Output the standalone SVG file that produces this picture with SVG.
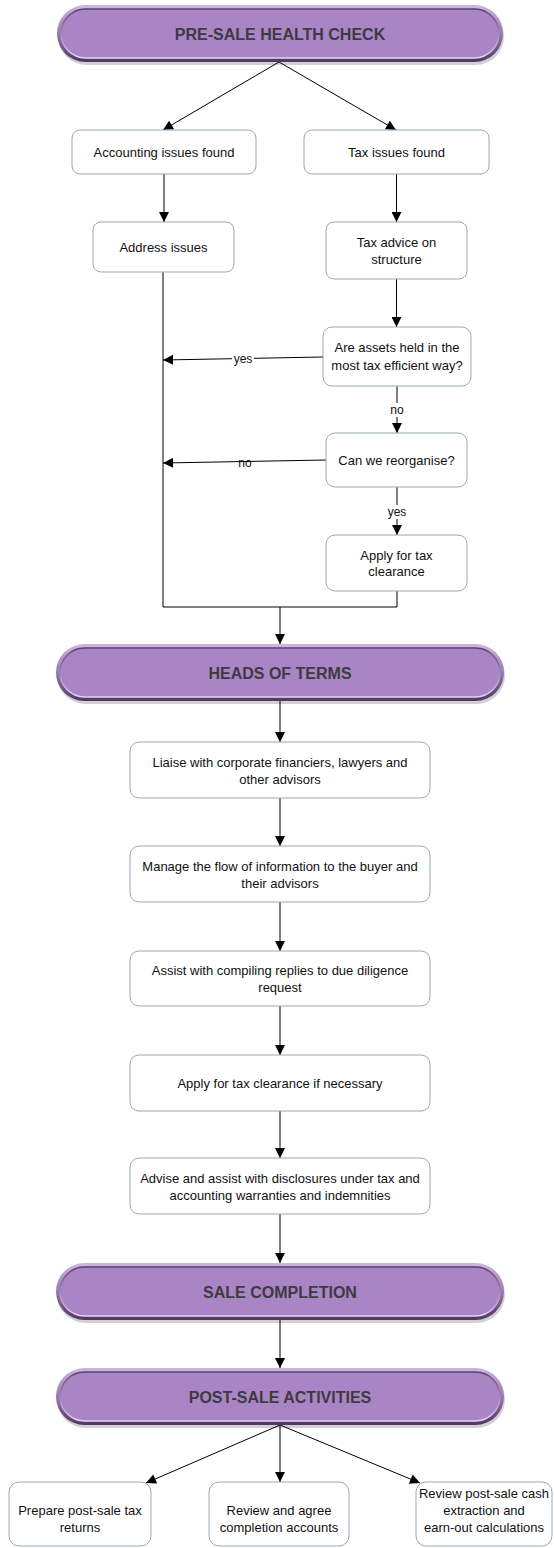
<svg xmlns="http://www.w3.org/2000/svg" width="554" height="1548" viewBox="0 0 554 1548">
<style>
.box{fill:#ffffff;stroke:#9aa7b4;stroke-width:1}
.t{font-family:"Liberation Sans",Arial,sans-serif;font-size:13px;fill:#111;text-anchor:middle}
.lbl{font-family:"Liberation Sans",Arial,sans-serif;font-size:12px;fill:#111;text-anchor:middle}
.bt{font-family:"Liberation Sans",Arial,sans-serif;font-size:16px;font-weight:bold;fill:#3d3a40;text-anchor:middle}
.c{fill:none;stroke:#000;stroke-width:1}
.a{marker-end:url(#arr)}
.outer{fill:url(#rim)}
.inner{fill:#aa85c6;stroke:url(#bev);stroke-width:1.5}
.shadow{fill:#000;opacity:0.18}
</style>
<defs>
<marker id="arr" viewBox="0 0 10 10" refX="10" refY="5" markerWidth="12" markerHeight="10" markerUnits="userSpaceOnUse" orient="auto">
<path d="M0,0 L10,5 L0,10 z" fill="#000"/>
</marker>
<linearGradient id="rim" x1="0" y1="0" x2="0" y2="1">
<stop offset="0" stop-color="#cdb7df"/>
<stop offset="0.5" stop-color="#9a77b4"/>
<stop offset="1" stop-color="#4f3763"/>
</linearGradient>
<linearGradient id="bev" x1="0" y1="0" x2="0" y2="1">
<stop offset="0" stop-color="#5a3f6f"/>
<stop offset="1" stop-color="#e6d6f2"/>
</linearGradient>
</defs>

<g id="connectors">
<line class="c a" x1="279" y1="62" x2="163" y2="130"/>
<line class="c a" x1="279" y1="62" x2="396" y2="130"/>
<line class="c a" x1="164" y1="174" x2="164" y2="222"/>
<line class="c a" x1="396.5" y1="174" x2="396.5" y2="222"/>
<line class="c a" x1="396.5" y1="279" x2="396.5" y2="327"/>
<line class="c a" x1="323" y1="357" x2="163" y2="360"/>
<line class="c a" x1="397" y1="386" x2="397" y2="433"/>
<line class="c a" x1="326" y1="460" x2="163" y2="463"/>
<line class="c a" x1="397" y1="487" x2="397" y2="535"/>
<polyline class="c" points="163,272 163,607 397,607 397,591"/>
<line class="c a" x1="280" y1="607" x2="280" y2="644"/>
<line class="c a" x1="280" y1="701" x2="280" y2="742"/>
<line class="c a" x1="280" y1="798" x2="280" y2="846"/>
<line class="c a" x1="280" y1="902" x2="280" y2="951"/>
<line class="c a" x1="280" y1="1006" x2="280" y2="1055"/>
<line class="c a" x1="280" y1="1111" x2="280" y2="1158"/>
<line class="c a" x1="280" y1="1214" x2="280" y2="1263"/>
<line class="c a" x1="280" y1="1320" x2="280" y2="1368"/>
<line class="c a" x1="280" y1="1425" x2="146" y2="1483"/>
<line class="c a" x1="280" y1="1425" x2="280" y2="1482"/>
<line class="c a" x1="280" y1="1425" x2="420" y2="1483"/>
<rect x="232" y="352" width="22" height="13" fill="#fff"/>
<text class="lbl" x="243" y="363">yes</text>
<rect x="389" y="403" width="16" height="14" fill="#fff"/>
<text class="lbl" x="397" y="414">no</text>
<text class="lbl" x="245" y="467">no</text>
<rect x="386" y="505" width="22" height="14" fill="#fff"/>
<text class="lbl" x="397" y="516">yes</text>
</g>

<g id="pre-sale">
<rect class="shadow" x="58" y="8" width="446" height="57" rx="28.5"/>
<rect class="outer" x="57" y="5" width="446" height="57" rx="28.5"/>
<rect class="inner" x="61" y="9" width="438" height="49" rx="24.5"/>
<text class="bt" x="280" y="40">PRE-SALE HEALTH CHECK</text>
</g>

<g id="accounting-issues">
<rect class="box" x="72" y="130" width="184" height="44" rx="8"/>
<text class="t" x="164" y="157">Accounting issues found</text>
</g>
<g id="tax-issues">
<rect class="box" x="304" y="130" width="185" height="44" rx="8"/>
<text class="t" x="396.5" y="157">Tax issues found</text>
</g>
<g id="address-issues">
<rect class="box" x="93" y="222" width="141" height="50" rx="8"/>
<text class="t" x="163.5" y="251.5">Address issues</text>
</g>
<g id="tax-advice">
<rect class="box" x="326" y="222" width="141" height="57" rx="8"/>
<text class="t" x="396.5" y="247">Tax advice on</text>
<text class="t" x="396.5" y="264">structure</text>
</g>
<g id="assets-efficient">
<rect class="box" x="323" y="327" width="148" height="59" rx="9"/>
<text class="t" x="397" y="352">Are assets held in the</text>
<text class="t" x="397" y="370">most tax efficient way?</text>
</g>
<g id="reorganise">
<rect class="box" x="326" y="433" width="141" height="54" rx="9"/>
<text class="t" x="396.5" y="465">Can we reorganise?</text>
</g>
<g id="apply-clearance">
<rect class="box" x="326" y="535" width="141" height="56" rx="9"/>
<text class="t" x="396.5" y="559.5">Apply for tax</text>
<text class="t" x="396.5" y="576">clearance</text>
</g>

<g id="heads-of-terms">
<rect class="shadow" x="57" y="647" width="448" height="57" rx="28.5"/>
<rect class="outer" x="56" y="644" width="448" height="57" rx="28.5"/>
<rect class="inner" x="60" y="648" width="440" height="49" rx="24.5"/>
<text class="bt" x="280" y="679">HEADS OF TERMS</text>
</g>

<g id="liaise">
<rect class="box" x="130" y="742" width="300" height="56" rx="9"/>
<text class="t" x="280" y="766.5">Liaise with corporate financiers, lawyers and</text>
<text class="t" x="280" y="783.5">other advisors</text>
</g>
<g id="manage-flow">
<rect class="box" x="130" y="846" width="300" height="56" rx="9"/>
<text class="t" x="280" y="871">Manage the flow of information to the buyer and</text>
<text class="t" x="280" y="888">their advisors</text>
</g>
<g id="due-diligence">
<rect class="box" x="130" y="951" width="300" height="55" rx="9"/>
<text class="t" x="280" y="975">Assist with compiling replies to due diligence</text>
<text class="t" x="280" y="992">request</text>
</g>
<g id="apply-if-necessary">
<rect class="box" x="130" y="1055" width="300" height="56" rx="9"/>
<text class="t" x="280" y="1087.5">Apply for tax clearance if necessary</text>
</g>
<g id="disclosures">
<rect class="box" x="130" y="1158" width="300" height="56" rx="9"/>
<text class="t" x="280" y="1182.5">Advise and assist with disclosures under tax and</text>
<text class="t" x="280" y="1200">accounting warranties and indemnities</text>
</g>

<g id="sale-completion">
<rect class="shadow" x="57" y="1266" width="448" height="57" rx="28.5"/>
<rect class="outer" x="56" y="1263" width="448" height="57" rx="28.5"/>
<rect class="inner" x="60" y="1267" width="440" height="49" rx="24.5"/>
<text class="bt" x="280" y="1297.5">SALE COMPLETION</text>
</g>

<g id="post-sale">
<rect class="shadow" x="57" y="1371" width="448" height="57" rx="28.5"/>
<rect class="outer" x="56" y="1368" width="448" height="57" rx="28.5"/>
<rect class="inner" x="60" y="1372" width="440" height="49" rx="24.5"/>
<text class="bt" x="280" y="1402.5">POST-SALE ACTIVITIES</text>
</g>

<g id="tax-returns">
<rect class="box" x="9" y="1482" width="142" height="64" rx="10"/>
<text class="t" x="80" y="1514.5">Prepare post-sale tax</text>
<text class="t" x="80" y="1532">returns</text>
</g>
<g id="completion-accounts">
<rect class="box" x="209" y="1482" width="140" height="64" rx="10"/>
<text class="t" x="279" y="1514.5">Review and agree</text>
<text class="t" x="279" y="1532">completion accounts</text>
</g>
<g id="cash-extraction">
<rect class="box" x="416" y="1482" width="136" height="64" rx="10"/>
<text class="t" x="484" y="1498">Review post-sale cash</text>
<text class="t" x="484" y="1515">extraction and</text>
<text class="t" x="484" y="1532">earn-out calculations</text>
</g>
</svg>
